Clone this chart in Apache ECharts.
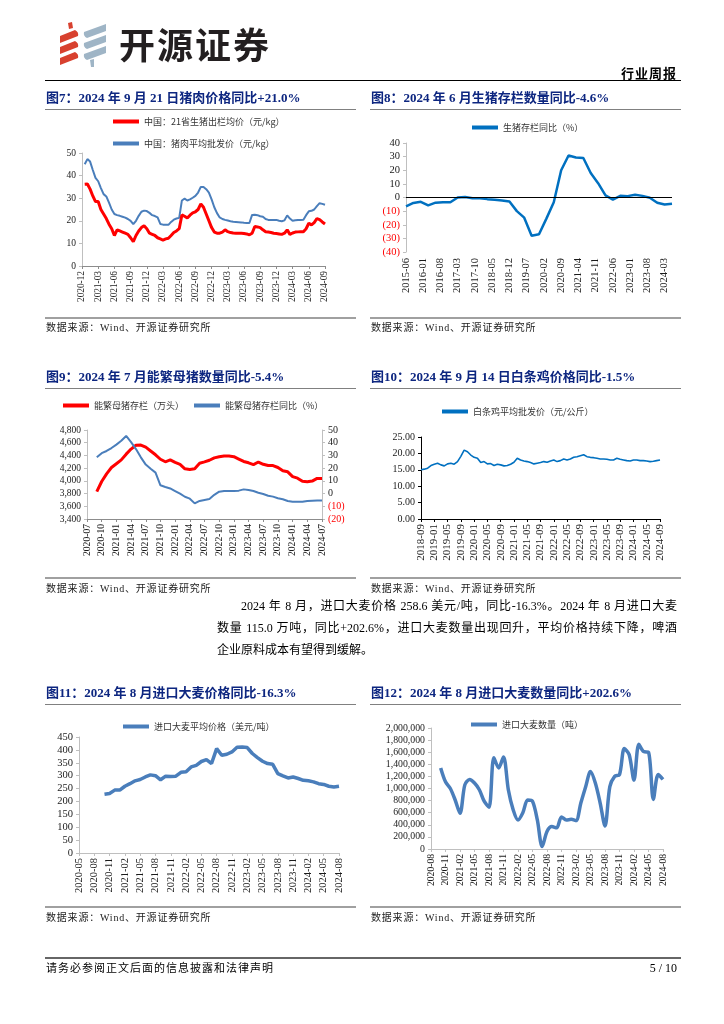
<!DOCTYPE html>
<html><head><meta charset="utf-8">
<script src="https://cdn.jsdelivr.net/npm/echarts@6/dist/echarts.min.js"></script>
<style>
html,body{margin:0;padding:0;background:#fff;}
#page{position:relative;width:724px;height:1024px;overflow:hidden;font-family:"Liberation Serif","Noto Sans CJK SC",serif;color:#000;}
#chart{position:absolute;left:0;top:0;width:724px;height:1024px;}
.t{position:absolute;white-space:nowrap;}
.title{font-weight:bold;font-size:13px;line-height:16px;color:#0d2680;}
.src{font-size:10px;line-height:12px;letter-spacing:0.8px;color:#222;}
.hl{position:absolute;height:0;}
.para{position:absolute;font-size:12px;line-height:16px;text-align:justify;text-align-last:justify;white-space:nowrap;}
</style></head><body>
<div id="page">
<div id="chart"></div>

<!-- header -->
<svg style="position:absolute;left:56px;top:20px" width="54" height="48" viewBox="0 0 54 48">
  <polygon points="12,3 16,2 17,8 13,9" fill="#d8412f"/>
  <path d="M4,16 L19,10 Q23,12 22,16 L4,23 Z" fill="#d8412f"/>
  <path d="M4,27 L19,21 Q23,23 22,27 L4,34 Z" fill="#d8412f"/>
  <path d="M4,38 L19,32 Q23,34 22,38 L4,45 Z" fill="#d8412f"/>
  <path d="M28,12 L50,4 L50,11 L31,18 Q27,16 28,12 Z" fill="#9fb5c6"/>
  <path d="M28,23 L50,15 L50,22 L31,29 Q27,27 28,23 Z" fill="#9fb5c6"/>
  <path d="M28,34 L50,26 L50,33 L31,40 Q27,38 28,34 Z" fill="#9fb5c6"/>
  <polygon points="34,40 38,39 38,47 35,47" fill="#9fb5c6"/>
</svg>
<div class="t" style="left:119px;top:23px;font-family:'Noto Sans CJK SC',sans-serif;font-weight:bold;font-size:36px;line-height:40px;letter-spacing:2px;color:#231f20;">开源证券</div>
<div class="t" style="right:47px;top:66px;font-family:'Noto Sans CJK SC',sans-serif;font-weight:bold;font-size:13px;line-height:14px;letter-spacing:1px;">行业周报</div>
<div class="hl" style="left:45px;top:80px;width:636px;border-top:1.5px solid #000;"></div>

<!-- row 1 -->
<div class="t title" style="left:46px;top:90px;">图7：2024 年 9 月 21 日猪肉价格同比+21.0%</div>
<div class="t title" style="left:371px;top:90px;">图8：2024 年 6 月生猪存栏数量同比-4.6%</div>
<div class="hl" style="left:45px;top:109px;width:311px;border-top:1px solid #808080;"></div>
<div class="hl" style="left:370px;top:109px;width:311px;border-top:1px solid #808080;"></div>
<div class="hl" style="left:45px;top:317px;width:311px;border-top:2px solid #a0a0a0;"></div>
<div class="hl" style="left:370px;top:317px;width:311px;border-top:2px solid #a0a0a0;"></div>
<div class="t src" style="left:46px;top:322px;">数据来源：Wind、开源证券研究所</div>
<div class="t src" style="left:371px;top:322px;">数据来源：Wind、开源证券研究所</div>

<!-- row 2 -->
<div class="t title" style="left:46px;top:369px;">图9：2024 年 7 月能繁母猪数量同比-5.4%</div>
<div class="t title" style="left:371px;top:369px;">图10：2024 年 9 月 14 日白条鸡价格同比-1.5%</div>
<div class="hl" style="left:45px;top:388px;width:311px;border-top:1px solid #808080;"></div>
<div class="hl" style="left:370px;top:388px;width:311px;border-top:1px solid #808080;"></div>
<div class="hl" style="left:45px;top:577px;width:311px;border-top:2px solid #a0a0a0;"></div>
<div class="hl" style="left:370px;top:577px;width:311px;border-top:2px solid #a0a0a0;"></div>
<div class="t src" style="left:46px;top:583px;">数据来源：Wind、开源证券研究所</div>
<div class="t src" style="left:371px;top:583px;">数据来源：Wind、开源证券研究所</div>

<!-- paragraph -->
<div class="para" style="left:241px;top:598px;width:436px;">2024 年 8 月，进口大麦价格 258.6 美元/吨，同比-16.3%。2024 年 8 月进口大麦</div>
<div class="para" style="left:217px;top:620px;width:460px;">数量 115.0 万吨，同比+202.6%，进口大麦数量出现回升，平均价格持续下降，啤酒</div>
<div class="t" style="left:217px;top:642px;font-size:12px;line-height:16px;">企业原料成本有望得到缓解。</div>

<!-- row 3 -->
<div class="t title" style="left:46px;top:685px;">图11：2024 年 8 月进口大麦价格同比-16.3%</div>
<div class="t title" style="left:371px;top:685px;">图12：2024 年 8 月进口大麦数量同比+202.6%</div>
<div class="hl" style="left:45px;top:704px;width:311px;border-top:1px solid #808080;"></div>
<div class="hl" style="left:370px;top:704px;width:311px;border-top:1px solid #808080;"></div>
<div class="hl" style="left:45px;top:906px;width:311px;border-top:2px solid #a0a0a0;"></div>
<div class="hl" style="left:370px;top:906px;width:311px;border-top:2px solid #a0a0a0;"></div>
<div class="t src" style="left:46px;top:912px;">数据来源：Wind、开源证券研究所</div>
<div class="t src" style="left:371px;top:912px;">数据来源：Wind、开源证券研究所</div>

<!-- footer -->
<div class="hl" style="left:45px;top:957px;width:636px;border-top:2px solid #666;"></div>
<div class="t" style="left:46px;top:961px;font-size:11px;line-height:14px;letter-spacing:1px;">请务必参阅正文后面的信息披露和法律声明</div>
<div class="t" style="right:47px;top:961px;font-size:12px;line-height:14px;">5 / 10</div>
</div>

<script>
// ---------------- data ----------------
// Fig 7: semi-monthly, month offset from 2020-12, starting at +0.5
const c7Base = [2020, 12];
const c7Start = 0.5, c7Step = 0.5;
const c7Names = ['中国：21省生猪出栏均价（元/kg）', '中国：猪肉平均批发价（元/kg）'];
const c7Live = [
  36.2, 36.3, 34, 31, 28.5, 28.5, 25, 23, 21, 18.5,
  16.5, 13.5, 16, 15.5, 15, 14.5, 14, 12.5, 10.8, 13.5,
  15.5, 17, 17.8, 16.5, 14.5, 14, 13.5, 12.5, 12, 11.5,
  12, 12.3, 13.5, 14.8, 15.5, 16.5, 22.6, 22, 21.2, 22.5,
  23.5, 24, 25, 27.5, 26, 23, 20, 17, 15, 14.5,
  14.5, 15, 16, 15.2, 14.8, 14.6, 14.5, 14.5, 14.5, 14.4,
  14.2, 13.8, 14.5, 17.5, 17.3, 17, 16, 15.2, 15, 14.8,
  14.5, 14.4, 14.2, 14, 14.5, 16, 14, 14.6, 15, 15.1,
  15.2, 15.2, 16.5, 18.9, 18.2, 19.2, 21, 20.5, 19.5, 18.6
];
const c7Pork = [
  45, 47.3, 46.2, 42.5, 39, 37.5, 34.5, 31.8, 30.8, 28,
  25, 23, 22.5, 22.2, 21.8, 21.4, 20.8, 20, 18.5, 20,
  22.2, 24, 24.5, 24.3, 23.5, 22.5, 22.1, 21.5, 18.6, 18.3,
  18.2, 18.2, 19.5, 20.5, 21, 21.3, 29, 29.8, 29, 29.5,
  30.2, 31, 32.5, 35, 35, 34, 32.5, 29.5, 26, 23.4,
  21.5, 20.8, 20.4, 20.1, 19.8, 19.6, 19.5, 19.4, 19.3, 19.1,
  19, 19, 22.6, 22.7, 22.5, 22, 21.8, 20.8, 20.4, 20.4,
  20.4, 20.4, 20, 19.8, 20.2, 22.4, 21, 20, 20.2, 20.4,
  20.4, 20.5, 22.5, 24.2, 24.4, 25, 26.5, 27.8, 27.5, 27.1
];

// Fig 8: quarterly, month offset from 2015-06
const c8Base = [2015, 6];
const c8Step = 3;
const c8Name = '生猪存栏同比（%）';
const c8Yoy = [
  -6.5, -4, -3.2, -5.8, -3.8, -3.4, -3.5, 0, 0.4, -0.6,
  -0.5, -1.2, -1.7, -2.2, -3, -10, -14.8, -28, -27, -15.5,
  -3.5, 20, 30.8, 29.4, 29, 18, 10.5, 1.5, -1.5, 1.2,
  1, 2, 1.2, -0.2, -3.8, -5.2, -4.6
];

// Fig 9: monthly from 2020-09 (offset 2 from 2020-07)
const c9Base = [2020, 7];
const c9Start = 2;
const c9Names = ['能繁母猪存栏（万头）', '能繁母猪存栏同比（%）'];
const c9Sows = [
  3830, 3990, 4110, 4210, 4270, 4330, 4420, 4500, 4560, 4564,
  4530, 4470, 4410, 4340, 4300, 4329, 4290, 4260, 4190, 4180,
  4192, 4277, 4298, 4324, 4362, 4379, 4390, 4390, 4381, 4343,
  4305, 4284, 4256, 4296, 4261, 4241, 4240, 4210, 4158, 4142,
  4067, 4042, 3992, 3986, 3996, 4038, 4038
];
const c9Yoy = [
  28.5, 31.8, 33.5, 35.8, 38.5, 41.5, 45.3, 40.5, 35, 28.5,
  22.8, 19.5, 16.5, 6.5, 5.2, 4, 2, 0, -2.5, -4,
  -7.7, -5.8, -5, -4.3, -1, 1.5, 2, 2, 2, 2.3,
  3.3, 2.8, 2, 0.7, -0.3, -1.7, -2.4, -3.7, -4.5, -5.8,
  -6.4, -6.4, -6.4, -5.8, -5.6, -5.4, -5.4
];

// Fig 10: monthly from 2018-09
const c10Base = [2018, 9];
const c10Name = '白条鸡平均批发价（元/公斤）';
const c10Price = [
  15.0, 15.2, 15.5, 16.3, 16.7, 17.0, 16.5, 16.2, 16.8, 17.0,
  16.7, 17.5, 19.1, 21.0, 20.5, 19.5, 18.8, 18.5, 17.2, 17.5,
  16.8, 16.9, 16.3, 16.7, 16.5, 16.2, 16.3, 16.7, 17.3, 18.5,
  18.0, 17.7, 17.5, 17.2, 16.8, 17.0, 17.2, 17.5, 17.3, 17.7,
  18.0, 17.5, 17.8, 18.3, 18.0, 18.3, 18.8, 19.0, 19.3, 19.6,
  19.0, 18.8, 18.7, 18.5, 18.3, 18.3, 18.2, 18.0, 18.0, 18.5,
  18.2, 18.0, 17.8, 17.7, 18.0, 18.0, 17.8, 17.8, 17.7, 17.5,
  17.6, 17.8, 18.0
];

// Fig 11: monthly from 2020-10 (offset 5 from 2020-05)
const c11Base = [2020, 5];
const c11Start = 5;
const c11Name = '进口大麦平均价格（美元/吨）';
const c11Price = [
  228, 231, 244, 244, 259, 269, 280, 285, 295, 303,
  300, 284, 298, 297, 298, 313, 315, 334, 340, 355,
  362, 347, 405, 379, 383, 392, 410, 411, 409, 386,
  370, 356, 347, 344, 308, 299, 291, 295, 289, 282,
  280, 276, 269, 266, 259, 256, 259
];

// Fig 12: monthly from 2020-10 (offset 2 from 2020-08)
const c12Base = [2020, 8];
const c12Start = 2;
const c12Name = '进口大麦数量（吨）';
const c12Qty = [
  1340000, 1110000, 1000000, 810000, 590000, 1060000, 1150000, 1090000, 980000, 790000,
  690000, 1510000, 1340000, 1520000, 980000, 650000, 480000, 600000, 810000, 790000,
  480000, 40000, 290000, 370000, 350000, 530000, 480000, 490000, 470000, 760000,
  1030000, 1280000, 1090000, 760000, 380000, 1030000, 1200000, 1230000, 1660000, 1560000,
  1140000, 1730000, 1610000, 1600000, 820000, 1230000, 1150000
];

// ---------------- helpers ----------------
const serif = '"Liberation Serif","Times New Roman",serif';
const cjk = '"Noto Sans CJK SC",sans-serif';
const lblColor = '#1a1a1a';

function monthFmt(base) {
  return function (v) {
    const t = base[0] * 12 + (base[1] - 1) + Math.round(v);
    const y = Math.floor(t / 12), m = t % 12 + 1;
    return y + '-' + (m < 10 ? '0' + m : m);
  };
}
function pairs(start, step, vals) { return vals.map((v, i) => [start + i * step, v]); }
const paren = v => (v < 0 ? '(' + (-v) + ')' : String(v));
const parenColor = v => (Number(v) < 0 ? '#ff0000' : lblColor);
const thousands = v => Number(v).toLocaleString('en-US');

function xAx(gi, base, max, interval, o) {
  o = o || {};
  return {
    type: 'value', gridIndex: gi, min: 0, max: max, interval: interval,
    axisLine: { show: o.line !== false, onZero: false, lineStyle: { color: o.lineColor || '#8c8c8c', width: 1 } },
    axisTick: { show: o.tick !== false, length: 3, lineStyle: { color: o.lineColor || '#8c8c8c' } },
    splitLine: { show: false },
    axisLabel: {
      rotate: 90, formatter: monthFmt(base), fontFamily: serif, fontSize: o.fs || 9,
      color: lblColor, margin: o.margin || 5, showMaxLabel: o.showMax !== false
    }
  };
}
function yAx(gi, min, max, interval, o) {
  o = o || {};
  return {
    type: 'value', gridIndex: gi, min: min, max: max, interval: interval,
    position: o.position || 'left',
    axisLine: { show: true, onZero: false, lineStyle: { color: o.lineColor || '#bfbfbf', width: 1 } },
    axisTick: { show: o.tick !== false, length: 3, lineStyle: { color: o.lineColor || '#bfbfbf' } },
    splitLine: { show: false },
    axisLabel: {
      formatter: o.fmt || (v => String(v)), fontFamily: serif, fontSize: o.fs || 10,
      color: o.color || lblColor, margin: o.margin || 6
    }
  };
}
function grid(l, t, w, h) {
  return { left: l, top: t, width: w, height: h, containLabel: false, outerBoundsMode: 'none' };
}
function legend(names, left, top, o) {
  o = o || {};
  return {
    data: names, left: left, top: top, orient: o.orient || 'horizontal', itemGap: o.gap || 10,
    itemWidth: 26, itemHeight: 4, icon: 'rect', padding: 0,
    textStyle: { fontFamily: cjk, fontSize: 9, color: '#333' }
  };
}
function line(name, xi, yi, data, color, width, extra) {
  return Object.assign({
    type: 'line', name: name, xAxisIndex: xi, yAxisIndex: yi, data: data,
    symbol: 'none', showSymbol: false,
    lineStyle: { color: color, width: width }, itemStyle: { color: color }
  }, extra || {});
}

const RED = '#ff0000', STEEL = '#4a7ebb', BRIGHT = '#0070c0';

const option = {
  animation: false,
  grid: [
    grid(82, 153, 243, 113),
    grid(406, 143, 266, 109),
    grid(87, 430, 235, 89),
    grid(421, 437, 239, 82),
    grid(79, 737, 260, 116),
    grid(431, 728, 232, 121)
  ],
  legend: [
    legend(c7Names, 113, 117, { orient: 'vertical', gap: 13 }),
    legend([c8Name], 472, 123),
    legend(c9Names, 63, 401, { gap: 10 }),
    legend([c10Name], 442, 407),
    legend([c11Name], 123, 722),
    legend([c12Name], 471, 720)
  ],
  xAxis: [
    xAx(0, c7Base, 45, 3, { fs: 9.3 }),
    xAx(1, c8Base, 108, 7, { fs: 10.5, line: false, tick: false, showMax: false, margin: 6 }),
    xAx(2, c9Base, 48, 3, { fs: 9.6 }),
    xAx(3, c10Base, 72, 4, { fs: 11, lineColor: '#000' }),
    xAx(4, c11Base, 51, 3, { fs: 10.5, lineColor: '#bfbfbf' }),
    xAx(5, c12Base, 48, 3, { fs: 9.6, lineColor: '#bfbfbf' })
  ],
  yAxis: [
    yAx(0, 0, 50, 10, { fs: 9.5 }),
    yAx(1, -40, 40, 10, { fs: 10.5, fmt: paren, color: parenColor }),
    yAx(2, 3400, 4800, 200, { fs: 9.5, fmt: thousands }),
    yAx(2, -20, 50, 10, { fs: 10, position: 'right', fmt: paren, color: parenColor }),
    yAx(3, 0, 25, 5, { fs: 10, fmt: v => Number(v).toFixed(2), lineColor: '#000' }),
    yAx(4, 0, 450, 50, { fs: 10.5 }),
    yAx(5, 0, 2000000, 200000, { fs: 9.8, fmt: thousands })
  ],
  series: [
    line(c7Names[1], 0, 0, pairs(c7Start, c7Step, c7Pork), STEEL, 2),
    line(c7Names[0], 0, 0, pairs(c7Start, c7Step, c7Live), RED, 3),
    line(c8Name, 1, 1, pairs(0, c8Step, c8Yoy), BRIGHT, 2.5, {
      markLine: { silent: true, symbol: 'none', label: { show: false },
        lineStyle: { color: '#000', width: 1, type: 'solid' }, data: [{ yAxis: 0 }] }
    }),
    line(c9Names[0], 2, 2, pairs(c9Start, 1, c9Sows), RED, 3),
    line(c9Names[1], 2, 3, pairs(c9Start, 1, c9Yoy), STEEL, 2),
    line(c10Name, 3, 4, pairs(0, 1, c10Price), BRIGHT, 1.6),
    line(c11Name, 4, 5, pairs(c11Start, 1, c11Price), STEEL, 3.5),
    line(c12Name, 5, 6, pairs(c12Start, 1, c12Qty), STEEL, 3.5, { smooth: 0.3 })
  ]
};

const chart = echarts.init(document.getElementById('chart'), null, { renderer: 'canvas', width: 724, height: 1024 });
chart.setOption(option);
</script>
</body></html>
